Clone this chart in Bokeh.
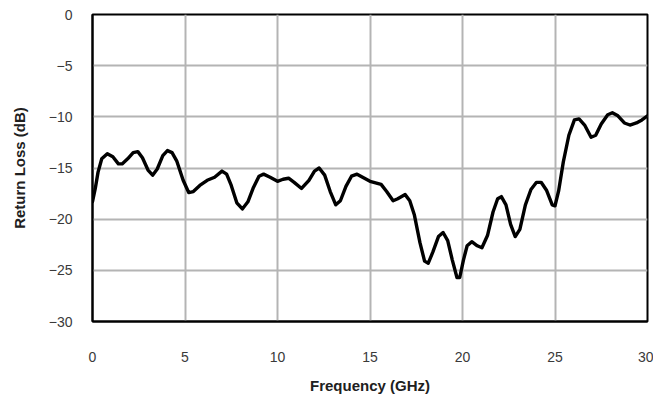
from bokeh.plotting import figure
from bokeh.models import Range1d, FixedTicker, ColumnDataSource
from bokeh.embed import file_html
from bokeh.resources import INLINE

freq_ghz = [0.0, 0.15, 0.3, 0.5, 0.8, 1.1, 1.4, 1.6, 1.9, 2.2,
            2.45, 2.7, 3.0, 3.25, 3.5, 3.8, 4.05, 4.3, 4.55, 4.9,
            5.2, 5.45, 5.8, 6.2, 6.6, 7.0, 7.25, 7.5, 7.8, 8.1,
            8.4, 8.7, 9.0, 9.25, 9.6, 10.0, 10.3, 10.6, 10.9, 11.3,
            11.7, 12.0, 12.25, 12.55, 12.85, 13.15, 13.4, 13.7, 14.0, 14.3,
            14.7, 15.0, 15.6, 15.9, 16.25, 16.5, 16.9, 17.15, 17.4, 17.7,
            17.95, 18.15, 18.4, 18.7, 18.95, 19.2, 19.45, 19.7, 19.85, 20.05,
            20.25, 20.5, 20.8, 21.05, 21.35, 21.65, 21.9, 22.1, 22.35, 22.6,
            22.85, 23.1, 23.4, 23.7, 24.0, 24.25, 24.55, 24.85, 25.0, 25.2,
            25.45, 25.75, 26.05, 26.3, 26.6, 26.95, 27.2, 27.5, 27.85, 28.1,
            28.4, 28.75, 29.05, 29.4, 29.7, 30.0]
return_loss_db = [-18.3, -17.0, -15.4, -14.1, -13.6, -13.9, -14.6, -14.6, -14.1, -13.5,
                  -13.4, -14.0, -15.2, -15.7, -15.1, -13.8, -13.3, -13.5, -14.3, -16.2,
                  -17.4, -17.3, -16.7, -16.2, -15.9, -15.3, -15.6, -16.7, -18.4, -19.0,
                  -18.3, -16.9, -15.8, -15.6, -15.9, -16.3, -16.1, -16.0, -16.4, -17.0,
                  -16.2, -15.3, -15.0, -15.7, -17.3, -18.6, -18.2, -16.8, -15.8, -15.6,
                  -16.0, -16.3, -16.6, -17.3, -18.2, -18.0, -17.6, -18.2, -19.6, -22.3,
                  -24.1, -24.3, -23.2, -21.7, -21.3, -22.1, -24.0, -25.7, -25.7, -24.0,
                  -22.6, -22.2, -22.6, -22.8, -21.6, -19.3, -18.0, -17.8, -18.6, -20.5,
                  -21.7, -21.0, -18.6, -17.1, -16.4, -16.4, -17.2, -18.6, -18.7, -17.2,
                  -14.4, -11.8, -10.3, -10.2, -10.8, -12.0, -11.8, -10.7, -9.8, -9.6,
                  -9.9, -10.6, -10.8, -10.6, -10.3, -9.9]
x_ticks = [0, 5, 10, 15, 20, 25, 30]
y_ticks = [0, -5, -10, -15, -20, -25, -30]

src = ColumnDataSource(dict(f=freq_ghz, rl=return_loss_db))

p = figure(frame_width=555, frame_height=307, output_backend="svg", toolbar_location=None,
           x_range=Range1d(0, 30), y_range=Range1d(-30, 0),
           min_border_left=92, min_border_right=6, min_border_top=14, min_border_bottom=60)

p.line("f", "rl", source=src, line_color="black", line_width=3.4,
       line_join="round", line_cap="round")

p.xaxis.ticker = FixedTicker(ticks=x_ticks)
p.yaxis.ticker = FixedTicker(ticks=y_ticks)

for ax in (p.xaxis[0], p.yaxis[0]):
    ax.major_tick_line_color = None
    ax.minor_tick_line_color = None
    ax.axis_line_color = "black"
    ax.axis_line_width = 2
    ax.major_label_text_font = "Liberation Sans"
    ax.major_label_text_font_size = "14px"
    ax.major_label_text_color = "#3a3a3a"
    ax.axis_label_text_font = "Liberation Sans"
    ax.axis_label_text_font_size = "15px"
    ax.axis_label_text_font_style = "bold"
    ax.axis_label_text_color = "#202020"

p.xaxis.axis_label = "Frequency (GHz)"
p.yaxis.axis_label = "Return Loss (dB)"
p.xaxis.major_label_standoff = 24
p.xaxis.axis_label_standoff = 12
p.yaxis.major_label_standoff = 14
p.yaxis.axis_label_standoff = 18

p.xgrid.ticker = FixedTicker(ticks=x_ticks)
p.ygrid.ticker = FixedTicker(ticks=y_ticks)
p.grid.grid_line_color = "#b4b4b4"
p.grid.grid_line_width = 2
p.outline_line_color = "black"
p.outline_line_width = 2
p.outline_line_alpha = 1

open("out.html", "w").write(file_html(p, INLINE))
